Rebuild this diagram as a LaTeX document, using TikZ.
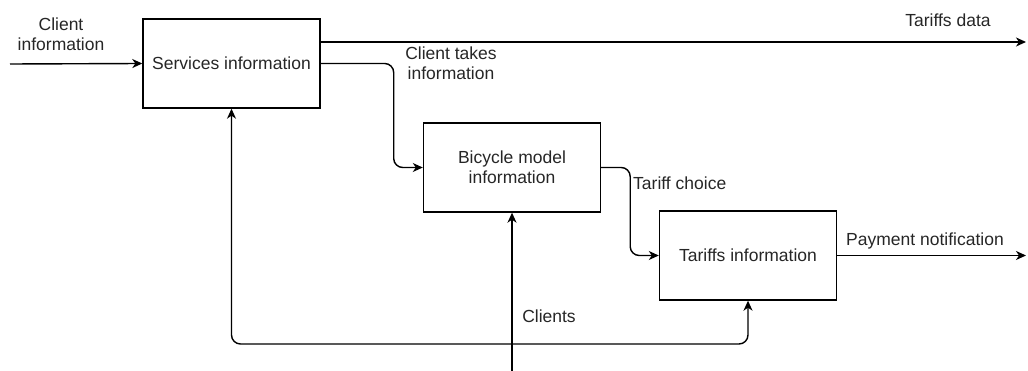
\documentclass[tikz,border=0pt]{standalone}
\usepackage{fontspec}
\setmainfont{Liberation Sans}
\usetikzlibrary{arrows.meta}
\begin{document}
\begin{tikzpicture}[x=1pt,y=-1pt,
  font=\fontsize{17.5}{20}\selectfont,
  every node/.style={text=black!85},
  proc/.style={draw=black, line width=1.4pt, minimum width=177pt, minimum height=89pt, inner sep=0pt, align=center},
  flow/.style={draw=black, line width=1.4pt, -{Stealth[length=10pt,width=9pt,inset=3pt]}},
  both/.style={draw=black, line width=1.4pt, {Stealth[length=10pt,width=9pt,inset=3pt]}-{Stealth[length=10pt,width=9pt,inset=3pt]}},
  lbl/.style={inner sep=0pt, align=center}]
\useasboundingbox (0,0) rectangle (1028,371);

% process boxes
\node[proc] (svc) at (231.5,63.5) {Services information};
\node[proc] (bic) at (512,167.5) {Bicycle model\\information};
\node[proc] (tar) at (748,255.5) {Tariffs information};

% free ends of the outer flows
\coordinate (inL) at (10,64);
\coordinate (outT) at (1026,42);
\coordinate (outP) at (1026,255.5);
\coordinate (inC) at (512,371);
\coordinate (loopB) at (512,344);

% connectors
\draw[flow] (inL) -- (svc.west);
\draw[flow] (svc.east |- outT) -- (outT);
\draw[flow, rounded corners=9pt] (svc.east) -- ++(73,0) |- (bic.west);
\draw[flow, rounded corners=9pt] (bic.east) -- ++(29,0) |- (tar.west);
\draw[flow] (tar.east) -- (outP);
\draw[flow] (inC) -- (bic.south);
\draw[both, rounded corners=9pt] (svc.south) -- (svc.south |- loopB) -| (tar.south);

% labels
\node[lbl] (lci) at (61,34) {Client\\information};
\node[lbl] (ltd) at (948,20) {Tariffs data};
\node[lbl] (lct) at (451,63) {Client takes\\information};
\node[lbl, anchor=west] (ltc) at (633,183) {Tariff choice};
\node[lbl, anchor=west] (lpn) at (846,241) {Payment notification};
\node[lbl] (lcl) at (549,316) {Clients};
\end{tikzpicture}
\end{document}
